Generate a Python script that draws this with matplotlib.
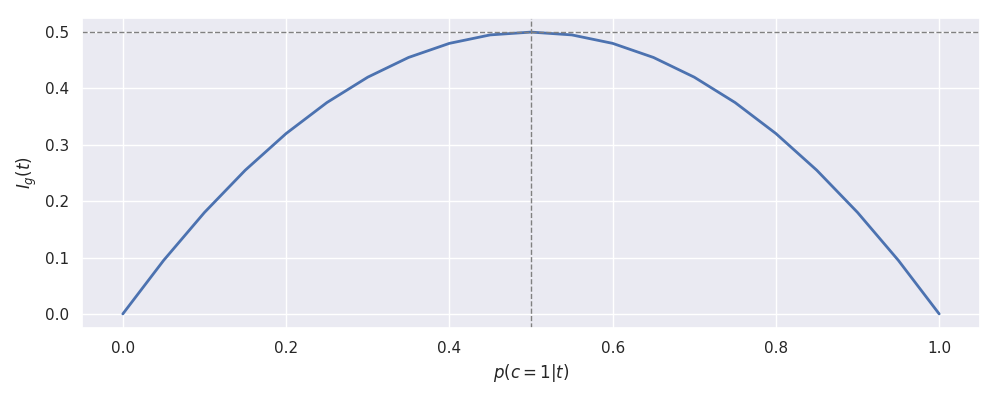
import matplotlib
matplotlib.use("Agg")
import matplotlib.pyplot as plt
import seaborn as sns

sns.set_theme(style="darkgrid")

p = [0.0, 0.05, 0.1, 0.15, 0.2, 0.25, 0.3, 0.35, 0.4, 0.45, 0.5,
     0.55, 0.6, 0.65, 0.7, 0.75, 0.8, 0.85, 0.9, 0.95, 1.0]
gini = [0.0, 0.095, 0.18, 0.255, 0.32, 0.375, 0.42, 0.455, 0.48, 0.495, 0.5,
        0.495, 0.48, 0.455, 0.42, 0.375, 0.32, 0.255, 0.18, 0.095, 0.0]
peak = 0.5
split = 0.5

fig, ax = plt.subplots(figsize=(10, 4), dpi=100)
ax.plot(p, gini, color="#4c72b0", linewidth=2)
ax.axhline(peak, color="gray", linestyle="--", linewidth=1)
ax.axvline(split, color="gray", linestyle="--", linewidth=1)
ax.set_xlabel(r"$p(c=1|t)$")
ax.set_ylabel(r"$I_g(t)$")
fig.subplots_adjust(left=0.082, right=0.98, top=0.955, bottom=0.18)
fig.savefig("out.png")
